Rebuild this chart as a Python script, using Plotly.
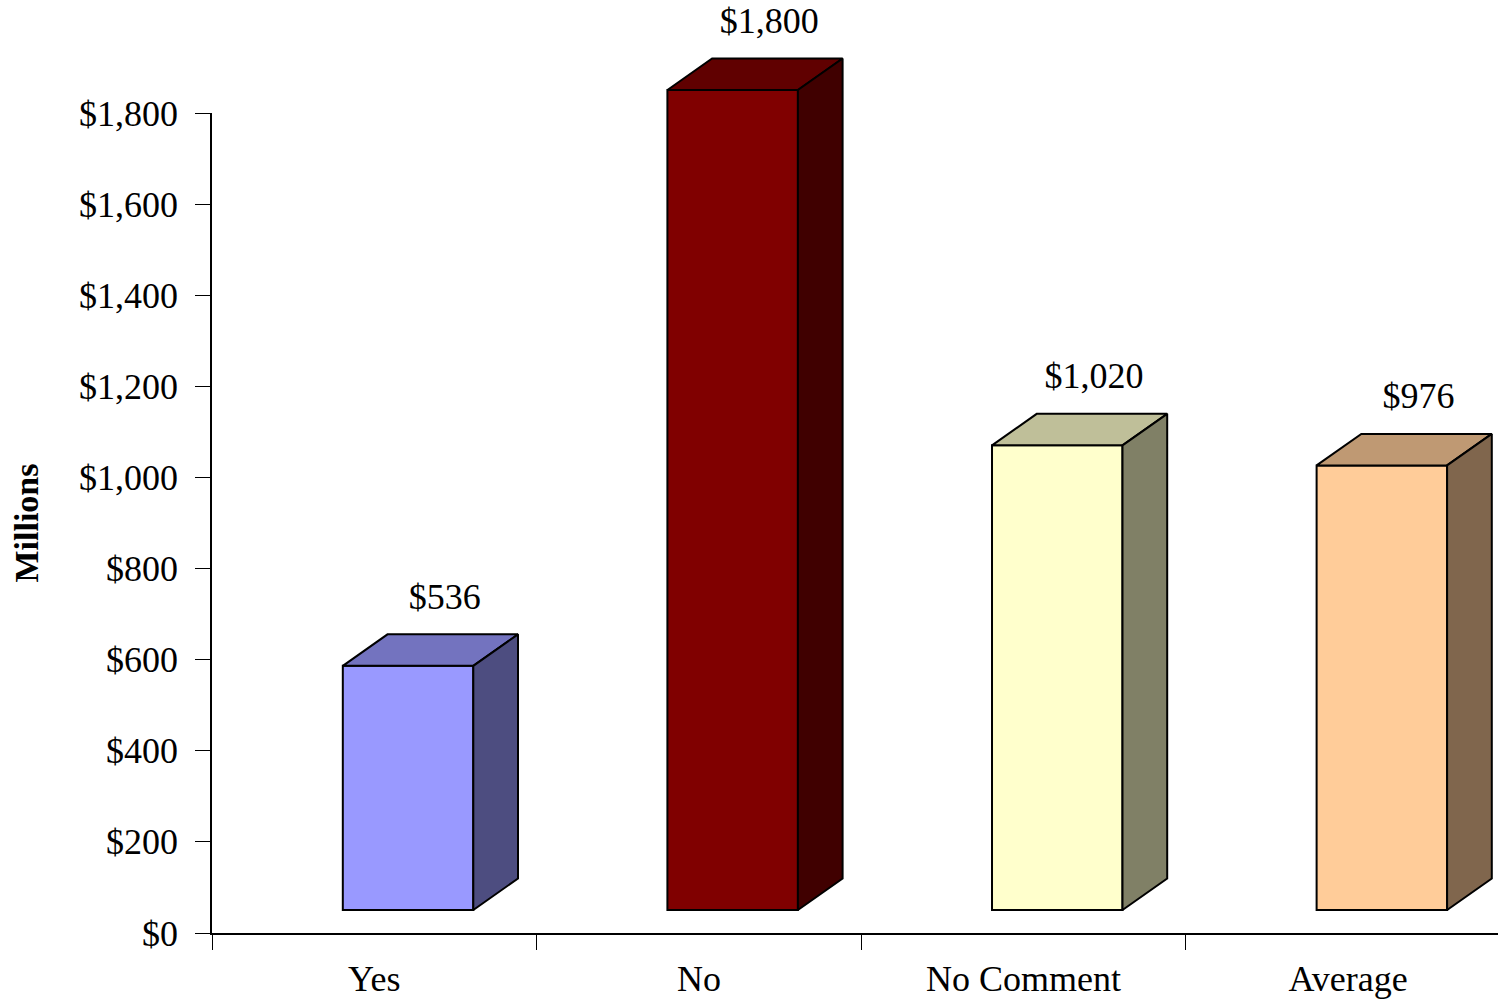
import plotly.graph_objects as go

categories = ["Yes", "No", "No Comment", "Average"]
values = [536, 1800, 1020, 976]
labels = ["$536", "$1,800", "$1,020", "$976"]
front_colors = ["#9999FF", "#800000", "#FFFFCC", "#FFCC99"]
top_colors = ["#7373BF", "#600000", "#BFBF99", "#BF9973"]
side_colors = ["#4D4D80", "#400000", "#808066", "#80664D"]
y_ticks = [0, 200, 400, 600, 800, 1000, 1200, 1400, 1600, 1800]

FONT = "Liberation Serif"
W, H = 1498, 999
ML, MR, MT, MB = 212, 0, 0, 66
cat_px = 324.6
plot_w = W - ML - MR
plot_h = H - MT - MB
px_per_unit = 820 / 1800
y2_max = plot_h / px_per_unit
x_min = -0.5
x_max = x_min + plot_w / cat_px

# 3D geometry (category units / value units)
base = 23 / px_per_unit
dx = 44.7 / cat_px
dy = 31.5 / px_per_unit
shift = 0.104
half_w = 0.201

fig = go.Figure()

xs = [i + shift for i in range(len(categories))]
fig.add_trace(go.Bar(
    x=xs, y=values, base=[base] * len(values), width=2 * half_w,
    marker=dict(color=front_colors, line=dict(color="black", width=2)),
    xaxis="x", yaxis="y2", showlegend=False, hoverinfo="skip"))

for i, v in enumerate(values):
    x0 = xs[i] - half_w
    x1 = xs[i] + half_w
    top = base + v
    # top face
    fig.add_trace(go.Scatter(
        x=[x0, x1, x1 + dx, x0 + dx, x0],
        y=[top, top, top + dy, top + dy, top],
        mode="lines", fill="toself", fillcolor=top_colors[i],
        line=dict(color="black", width=2), xaxis="x", yaxis="y2",
        showlegend=False, hoverinfo="skip"))
    # side face
    fig.add_trace(go.Scatter(
        x=[x1, x1 + dx, x1 + dx, x1, x1],
        y=[base, base + dy, top + dy, top, base],
        mode="lines", fill="toself", fillcolor=side_colors[i],
        line=dict(color="black", width=2), xaxis="x", yaxis="y2",
        showlegend=False, hoverinfo="skip"))

label_x = [x + dx - 8 / cat_px for x in xs]
label_y = [base + v + dy + 76 for v in values]
fig.add_trace(go.Scatter(
    x=label_x, y=label_y, mode="text", text=labels,
    textposition="middle center", textfont=dict(family=FONT, size=36, color="black"),
    cliponaxis=False, xaxis="x", yaxis="y2", showlegend=False, hoverinfo="skip"))

# invisible trace to activate category label axis
fig.add_trace(go.Scatter(x=[0], y=[0], mode="markers", marker=dict(opacity=0),
                         xaxis="x2", yaxis="y2", showlegend=False, hoverinfo="skip"))
# invisible trace on y to show ticks
fig.add_trace(go.Scatter(x=[0], y=[0], mode="markers", marker=dict(opacity=0),
                         xaxis="x", yaxis="y", showlegend=False, hoverinfo="skip"))

fig.update_layout(
    width=W, height=H,
    margin=dict(l=ML, r=MR, t=MT, b=MB, autoexpand=False),
    paper_bgcolor="white", plot_bgcolor="white",
    font=dict(family=FONT, size=36, color="black"),
    xaxis=dict(range=[x_min, x_max], domain=[0, 1], anchor="y", automargin=False,
               tickvals=[-0.5, 0.5, 1.5, 2.5, 3.5], ticktext=["", "", "", "", ""],
               ticks="outside", ticklen=15, tickwidth=1, tickcolor="black",
               showline=True, linecolor="black", linewidth=1.5,
               showgrid=False, zeroline=False, fixedrange=True),
    xaxis2=dict(range=[x_min, x_max], overlaying="x", anchor="y", side="bottom",
                automargin=False,
                tickvals=[0, 1, 2, 3], ticktext=categories, ticks="",
                showline=False, showgrid=False, zeroline=False,
                tickfont=dict(family=FONT, size=36), ticklabelstandoff=21),
    yaxis=dict(range=[0, 1800], domain=[0, 820 / plot_h], anchor="x", automargin=False,
               tickvals=y_ticks, ticktext=["$" + format(t, ",") for t in y_ticks],
               ticks="outside", ticklen=15, tickwidth=1, tickcolor="black",
               showline=True, linecolor="black", linewidth=1.5,
               showgrid=False, zeroline=False,
               tickfont=dict(family=FONT, size=36), ticklabelstandoff=10,
               title=dict(text="<b>Millions</b>", font=dict(family=FONT, size=34),
                          standoff=30)),
    yaxis2=dict(range=[0, y2_max], domain=[0, 1], anchor="x", visible=False,
                automargin=False, showgrid=False, zeroline=False),
)

fig.write_html("out.html", config={"displayModeBar": False},
               post_script="document.body.style.margin='0px';document.body.style.overflow='hidden';")
